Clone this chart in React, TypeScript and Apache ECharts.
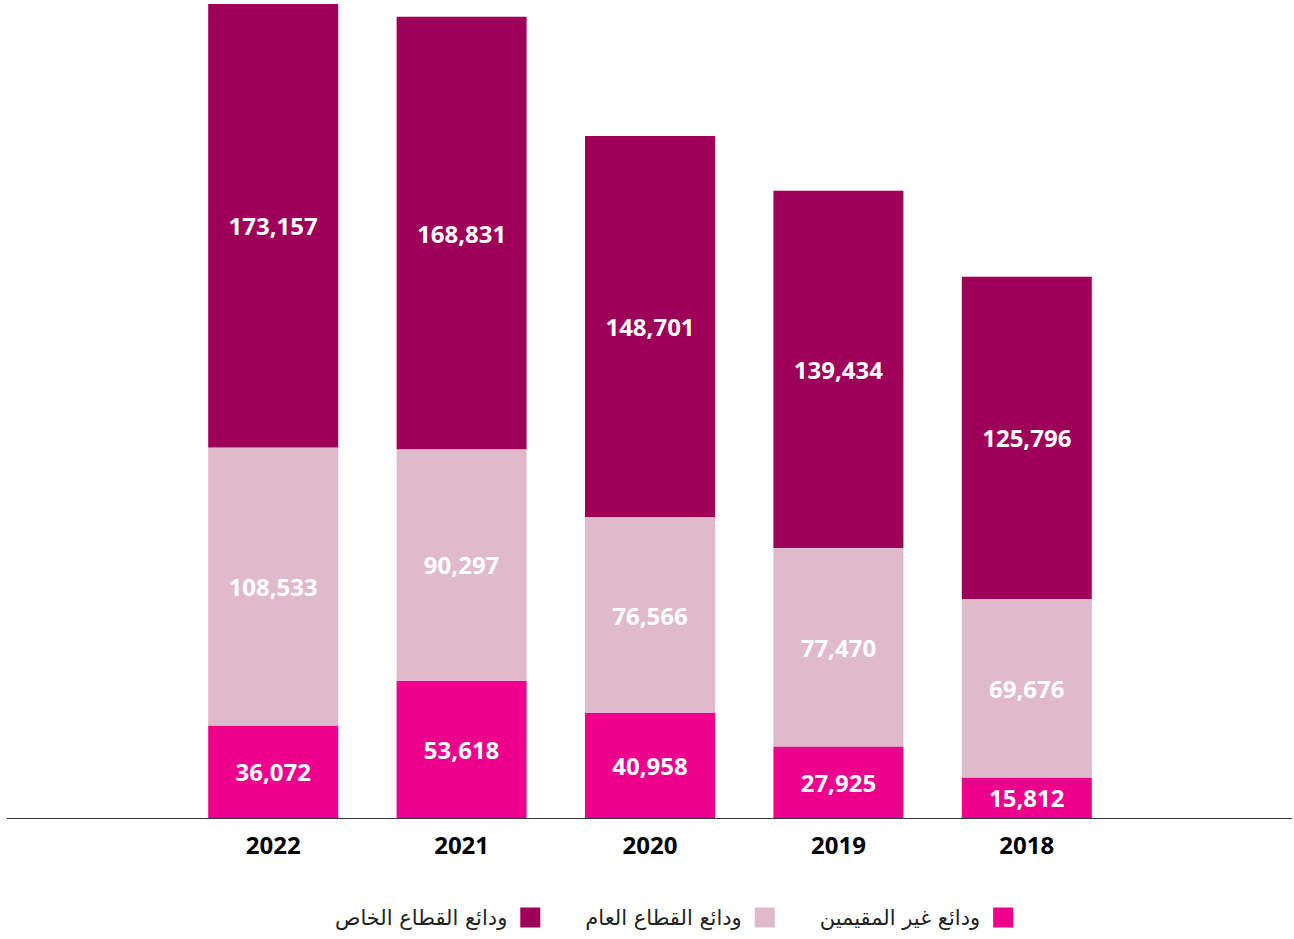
import React, { useEffect, useRef } from "react";
import * as echarts from "echarts";

const years = ["2022", "2021", "2020", "2019", "2018"];
const nonResident = [36072, 53618, 40958, 27925, 15812];
const publicSector = [108533, 90297, 76566, 77470, 69676];
const privateSector = [173157, 168831, 148701, 139434, 125796];

const nameNonResident = "ودائع غير المقيمين";
const namePublic = "ودائع القطاع العام";
const namePrivate = "ودائع القطاع الخاص";

const colors = { nonResident: "#EC008C", publicSector: "#E0B9CA", privateSector: "#9E0059" };

export default function App() {
  const ref = useRef<HTMLDivElement>(null);
  useEffect(() => {
    if (!ref.current) return;
    const chart = echarts.init(ref.current, null, { renderer: "svg" });
    const totals = years.map((_, i) => nonResident[i] + publicSector[i] + privateSector[i]);
    const label = {
      show: true,
      position: "inside",
      color: "#ffffff",
      fontFamily: "Open Sans",
      fontWeight: "bold",
      fontSize: 24,
      formatter: (p: any) => Number(p.value).toLocaleString("en-US"),
    };
    const mk = (name: string, data: number[], color: string) => ({
      name,
      type: "bar",
      stack: "total",
      barWidth: 130,
      data,
      itemStyle: { color },
      label,
      emphasis: { disabled: true },
    });
    chart.setOption({
      animation: false,
      grid: { left: 179, right: 173, top: 4, bottom: 121, containLabel: false },
      xAxis: {
        type: "category",
        data: years,
        axisLine: { show: false },
        axisTick: { show: false },
        axisLabel: {
          color: "#000",
          fontFamily: "Open Sans",
          fontWeight: "bold",
          fontSize: 24,
          margin: 14,
        },
      },
      yAxis: {
        type: "value",
        min: 0,
        max: Math.max(...totals),
        show: false,
        splitLine: { show: false },
      },
      legend: {
        data: [namePrivate, namePublic, nameNonResident],
        bottom: 6,
        left: 330,
        align: "right",
        icon: "rect",
        itemWidth: 20,
        itemHeight: 20,
        itemGap: 45,
        textStyle: {
          fontFamily: "DejaVu Sans",
          fontSize: 21,
          color: "#222",
          padding: [0, 8, 0, 0],
        },
        selectedMode: false,
      },
      graphic: [
        {
          type: "line",
          shape: { x1: 7, y1: 818.5, x2: 1292, y2: 818.5 },
          style: { stroke: "#333", lineWidth: 1.2 },
          z: 10,
        },
      ],
      series: [
        mk(nameNonResident, nonResident, colors.nonResident),
        mk(namePublic, publicSector, colors.publicSector),
        mk(namePrivate, privateSector, colors.privateSector),
      ],
    });
    return () => chart.dispose();
  }, []);
  return (
    <div
      ref={ref}
      style={{ position: "absolute", left: 0, top: 0, width: 1294, height: 939 }}
    />
  );
}
